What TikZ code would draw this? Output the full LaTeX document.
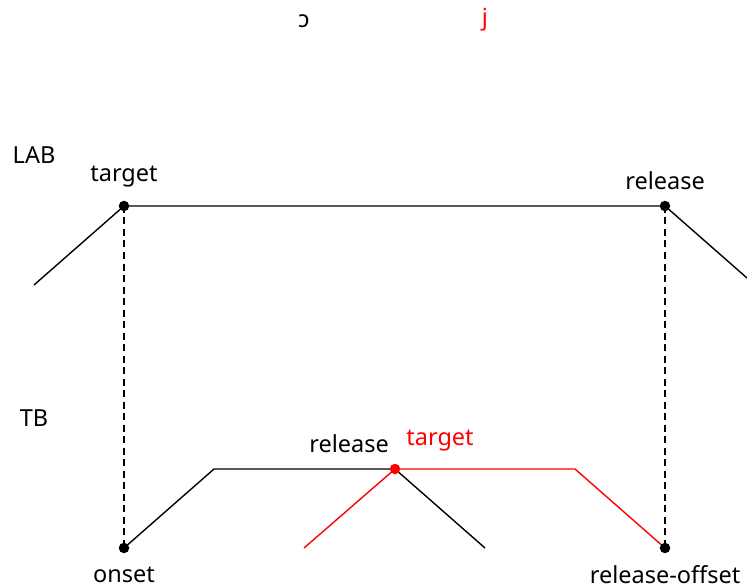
\documentclass[tikz,border=0pt]{standalone}
\usepackage{fontspec}
\setmainfont{Noto Sans}
\begin{document}
\begin{tikzpicture}[x=1pt,y=-1pt,
  dot/.style={circle,fill=black,inner sep=0pt,minimum size=10.5pt},
  rdot/.style={circle,fill=red,inner sep=0pt,minimum size=10.5pt},
  lbl/.style={inner sep=0pt,font=\fontsize{23.5}{28}\selectfont},
  ln/.style={line width=1.4pt},
  dsh/.style={line width=1.4pt,dash pattern=on 7pt off 4.5pt}]
\useasboundingbox (0,0) rectangle (747,588);
% top symbols
\node[lbl] (oo) at (304,21) {ɔ};
\node[lbl,text=red] (jj) at (485,20) {j};
\node[lbl] (lab) at (34,155) {LAB};
\node[lbl] (tb) at (34,418) {TB};
% coordinates
\coordinate (la) at (34,285);
\coordinate (lt) at (124,206);
\coordinate (lr) at (665,206);
\coordinate (le) at (747,278);
\coordinate (to) at (124,548);
\coordinate (tp) at (214,469);
\coordinate (tr) at (395,469);
\coordinate (te) at (485,548);
\coordinate (ra) at (304,548);
\coordinate (rp) at (575,469);
\coordinate (ro) at (665,548);
% lines
\draw[ln] (la) -- (lt) -- (lr) -- (le);
\draw[dsh] (lt) -- (to);
\draw[dsh] (lr) -- (ro);
\draw[ln] (to) -- (tp) -- (tr) -- (te);
\draw[ln,red] (ra) -- (tr) -- (rp) -- (ro);
% dots
\node[dot] (dlt) at (lt) {};
\node[dot] (dlr) at (lr) {};
\node[dot] (dto) at (to) {};
\node[dot] (dro) at (ro) {};
\node[rdot] (dtr) at (tr) {};
% labels
\node[lbl] (l1) at (124,177) {target};
\node[lbl] (l2) at (665,181) {release};
\node[lbl] (l3) at (349,444) {release};
\node[lbl,text=red] (l4) at (440,441) {target};
\node[lbl] (l5) at (124,575) {onset};
\node[lbl] (l6) at (665,575) {release-offset};
\end{tikzpicture}
\end{document}
